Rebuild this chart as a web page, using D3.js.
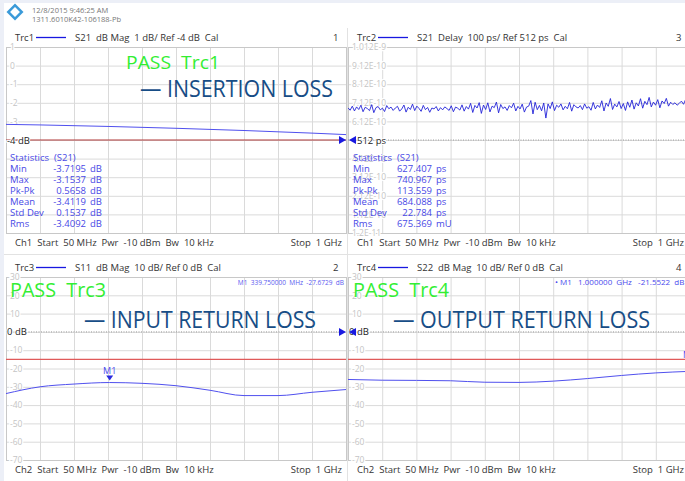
<!DOCTYPE html>
<html>
<head>
<meta charset="utf-8">
<script src="https://cdn.jsdelivr.net/npm/d3@7"></script>
<style>
  body { margin: 0; background: #fff; }
  svg { display: block; font-family: "Open Sans", sans-serif; }
  text { white-space: pre; }
</style>
</head>
<body>
<div id="vna"></div>
<script>
const svgWidth = 685;
const svgHeight = 481;

// sweep
const startMHz = 50;
const stopMHz = 1000;

// Trc1 S21 dB Mag
const trc1Freq = [50, 145, 240, 335, 430, 525, 620, 715, 810, 905, 1000];
const trc1Db = [-3.16, -3.19, -3.23, -3.27, -3.32, -3.37, -3.43, -3.49, -3.56, -3.63, -3.71];

// Trc2 S21 Delay in ps (evenly spaced points across the sweep)
const trc2Ps = [
  685, 672, 694, 668, 690, 676, 699, 664, 688, 681, 670, 702, 659, 686, 692, 674,
  683, 665, 697, 680, 689, 671, 684, 693, 667, 679, 700, 662, 688, 676, 705, 670,
  694, 682, 666, 698, 675, 687, 661, 684, 679, 692, 668, 686, 674, 690, 681, 671,
  696, 664, 689, 683, 673, 701, 667, 692, 678, 709, 660, 698, 684, 713, 655, 700,
  676, 712, 663, 694, 686, 716, 658, 703, 681, 690, 671, 697, 685, 710, 668, 693,
  679, 705, 662, 689, 694, 724, 652, 715, 675, 698, 669, 711, 630, 706, 681, 717,
  670, 699, 688, 706, 674, 693, 680, 714, 667, 702, 690, 684, 697, 675, 706, 683,
  691, 672, 714, 679, 700, 687, 723, 668, 711, 693, 735, 676, 705, 690, 719, 681,
  708, 671, 717, 688, 727, 678, 712, 695, 734, 683, 720, 702, 741, 690, 716, 699,
  729, 685, 722, 708, 736, 694, 715, 703, 712, 699, 709, 721, 704, 731, 696, 718
];

// Trc3 S11 dB Mag
const trc3Freq = [50, 145, 240, 339.75, 430, 525, 620, 715, 810, 905, 1000];
const trc3Db = [-33.7, -30.0, -28.5, -27.67, -28.1, -29.4, -31.9, -34.8, -34.8, -33.0, -31.5];

// Trc4 S22 dB Mag
const trc4Freq = [50, 145, 240, 335, 430, 525, 620, 715, 810, 905, 1000];
const trc4Db = [-26.0, -26.4, -26.5, -26.7, -27.5, -27.6, -26.9, -25.5, -23.8, -22.4, -21.55];

// tick labels (the ones hidden under the statistics are left blank)
const trc1Ticks = ["1", "0", "-1", "-2", "-3", "", "", "", "", "", ""];
const trc2Ticks = ["1.012E-9", "9.12E-10", "8.12E-10", "7.12E-10", "6.12E-10", "",
  "4.12E-10", "3.12E-10", "2.12E-10", "1.12E-10", "1.2E-11"];
const rlTicks = ["30", "20", "10", "", "-10", "-20", "-30", "-40", "-50", "-60", "-70"];

// statistics
const statNames = ["Min", "Max", "Pk-Pk", "Mean", "Std Dev", "Rms"];
const stats1 = ["-3.7195", "-3.1537", "0.5658", "-3.4119", "0.1537", "-3.4092"];
const units1 = ["dB", "dB", "dB", "dB", "dB", "dB"];
const stats2 = ["627.407", "740.967", "113.559", "684.088", "22.784", "675.369"];
const units2 = ["ps", "ps", "ps", "ps", "ps", "mU"];

const traceBlue = "#5050ee";
const statBlue = "#4848e6";
const gridGray = "#dadada";
const tickGray = "#c4c4c4";

const svg = d3.select("#vna").append("svg")
  .attr("width", svgWidth)
  .attr("height", svgHeight);

// outer tint strips
svg.append("rect").attr("x", 0).attr("y", 0).attr("width", svgWidth).attr("height", 3).attr("fill", "#eceff7");
svg.append("rect").attr("x", 0).attr("y", 0).attr("width", 4).attr("height", svgHeight).attr("fill", "#eceff7");

// logo + instrument info
const logo = svg.append("g").attr("transform", "translate(15,12) rotate(45)");
logo.append("rect").attr("x", -6).attr("y", -6).attr("width", 12).attr("height", 12)
  .attr("fill", "#3a9ad9");
logo.append("rect").attr("x", -3.5).attr("y", -3.5).attr("width", 7).attr("height", 7)
  .attr("fill", "#fff");
svg.append("text").attr("x", 32).attr("y", 13).attr("font-size", 7.5).attr("fill", "#777")
  .text("12/8/2015 9:46:25 AM");
svg.append("text").attr("x", 32).attr("y", 22).attr("font-size", 7.5).attr("fill", "#777")
  .text("1311.6010K42-106188-Pb");

// separators
svg.append("line").attr("x1", 347.5).attr("x2", 347.5).attr("y1", 28).attr("y2", svgHeight)
  .attr("stroke", "#e2e2e2");
svg.append("line").attr("x1", 4).attr("x2", svgWidth).attr("y1", 254.5).attr("y2", 254.5)
  .attr("stroke", "#e2e2e2");

function drawPanel(p) {
  const g = svg.append("g");
  const x = d3.scaleLinear().domain([startMHz, stopMHz]).range([p.x0, p.x0 + p.w]);
  const y = d3.scaleLinear().domain(p.yDomain).range([p.y0 + p.h, p.y0]);

  const clipId = "clip" + p.id;
  svg.append("clipPath").attr("id", clipId).append("rect")
    .attr("x", p.x0).attr("y", p.y0 - 1).attr("width", p.w).attr("height", p.h + 2);

  // header
  g.append("text").attr("x", p.x0 + 9).attr("y", p.y0 - 6).attr("font-size", 9.5).attr("fill", "#333")
    .text(p.trc);
  g.append("line").attr("x1", p.x0 + 30).attr("x2", p.x0 + 60).attr("y1", p.y0 - 9.5).attr("y2", p.y0 - 9.5)
    .attr("stroke", "#1818e0").attr("stroke-width", 1.3);
  g.append("text").attr("x", p.x0 + 69).attr("y", p.y0 - 6).attr("font-size", 9.5).attr("fill", "#333")
    .text(p.header);
  g.append("text").attr("x", p.chX).attr("y", p.y0 - 6).attr("font-size", 9.5).attr("fill", "#333")
    .text(p.num);

  // footer
  g.append("text").attr("x", p.x0 + 9).attr("y", p.y0 + p.h + 13).attr("font-size", 9.5).attr("fill", "#333")
    .text(p.footer);
  g.append("text").attr("x", p.stopX).attr("y", p.y0 + p.h + 13).attr("font-size", 9.5).attr("fill", "#333")
    .attr("text-anchor", "end").text("Stop  1 GHz");

  // grid
  const grid = g.append("g").attr("clip-path", `url(#${clipId})`);
  grid.append("g")
    .attr("transform", `translate(0,${p.y0 + p.h})`)
    .call(d3.axisBottom(x).tickValues(d3.range(11).map(i => startMHz + i * 95)).tickSize(-p.h).tickFormat(""))
    .call(a => a.select(".domain").remove())
    .call(a => a.selectAll("line").attr("stroke", gridGray));
  const yVals = d3.range(11).map(i => p.yDomain[1] - i * (p.yDomain[1] - p.yDomain[0]) / 10);
  grid.append("g")
    .attr("transform", `translate(${p.x0},0)`)
    .call(d3.axisRight(y).tickValues(yVals).tickSize(p.w).tickFormat(""))
    .call(a => a.select(".domain").remove())
    .call(a => a.selectAll("line").attr("stroke", gridGray));

  g.append("rect").attr("x", p.x0 + 0.5).attr("y", p.y0 + 0.5).attr("width", p.w).attr("height", p.h)
    .attr("fill", "none").attr("stroke", "#c8c8c8");

  // y tick labels inside the plot
  g.append("g")
    .attr("transform", `translate(${p.x0},0)`)
    .call(d3.axisRight(y).tickValues(yVals).tickSize(0).tickPadding(4)
      .tickFormat((d, i) => p.ticks[i]))
    .call(a => a.select(".domain").remove())
    .call(a => a.selectAll("text")
      .attr("font-family", "Open Sans, sans-serif").attr("font-size", 8.5)
      .attr("fill", tickGray).attr("stroke", "#fff").attr("stroke-width", 2.5)
      .attr("paint-order", "stroke"));

  // reference line + label
  const yRef = y(p.ref);
  g.append("line").attr("x1", p.x0).attr("x2", p.x0 + p.w).attr("y1", yRef).attr("y2", yRef)
    .attr("stroke", p.refColor).attr("stroke-width", p.refWidth)
    .attr("stroke-dasharray", p.refDash);
  g.append("text").attr("x", p.x0 + p.refLabelDx).attr("y", yRef + 3.5).attr("font-size", 9.5)
    .attr("fill", "#222").attr("stroke", "#fff").attr("stroke-width", 2).attr("paint-order", "stroke")
    .text(p.refLabel);
  p.refArrows.forEach(ax => {
    g.append("path")
      .attr("d", `M${ax},${yRef} l-7,-4 v8 z`)
      .attr("transform", ax < p.x0 + 5 ? `translate(${2 * ax},0) scale(-1,1)` : null)
      .attr("fill", "#1a1ae0");
  });

  // limit line
  if (p.limit !== undefined) {
    g.append("line").attr("x1", p.x0).attr("x2", p.x0 + p.w).attr("y1", y(p.limit)).attr("y2", y(p.limit))
      .attr("stroke", p.limitColor).attr("stroke-width", 1.2);
  }

  // trace
  const line = d3.line().x(d => x(d[0])).y(d => y(d[1])).curve(p.curve);
  g.append("path").datum(p.data)
    .attr("clip-path", `url(#${clipId})`)
    .attr("d", line)
    .attr("fill", "none").attr("stroke", p.color).attr("stroke-width", p.lw);

  return { g, x, y };
}

// Trc1
const p1 = drawPanel({
  id: 1, x0: 6, y0: 47, w: 340, h: 186, yDomain: [-9, 1], ticks: trc1Ticks,
  trc: "Trc1", header: "S21  dB Mag  1 dB/ Ref -4 dB  Cal", num: "1", chX: 333,
  footer: "Ch1  Start  50 MHz  Pwr  -10 dBm  Bw  10 kHz", stopX: 342,
  ref: -4, refColor: "#b03838", refWidth: 1.2, refDash: null, refLabel: "-4 dB", refLabelDx: 1,
  refArrows: [346],
  data: trc1Freq.map((f, i) => [f, trc1Db[i]]), curve: d3.curveMonotoneX,
  color: traceBlue, lw: 1
});

// Trc2
const trc2Freq = trc2Ps.map((d, i) => startMHz + i * (stopMHz - startMHz) / (trc2Ps.length - 1));
const p2 = drawPanel({
  id: 2, x0: 348, y0: 47, w: 342, h: 186, yDomain: [12, 1012], ticks: trc2Ticks,
  trc: "Trc2", header: "S21  Delay  100 ps/ Ref 512 ps  Cal", num: "3", chX: 676,
  footer: "Ch1  Start  50 MHz  Pwr  -10 dBm  Bw  10 kHz", stopX: 684,
  ref: 512, refColor: "#888", refWidth: 0.8, refDash: "1,1.5", refLabel: "512 ps", refLabelDx: 9,
  refArrows: [349, 692],
  data: trc2Freq.map((f, i) => [f, trc2Ps[i]]), curve: d3.curveLinear,
  color: "#2424d8", lw: 0.9
});

// Trc3
const p3 = drawPanel({
  id: 3, x0: 6, y0: 277, w: 340, h: 183, yDomain: [-70, 30], ticks: rlTicks,
  trc: "Trc3", header: "S11  dB Mag  10 dB/ Ref 0 dB  Cal", num: "2", chX: 333,
  footer: "Ch2  Start  50 MHz  Pwr  -10 dBm  Bw  10 kHz", stopX: 342,
  ref: 0, refColor: "#888", refWidth: 0.8, refDash: "1,1.5", refLabel: "0 dB", refLabelDx: 1,
  refArrows: [346],
  limit: -15, limitColor: "#e05a5a",
  data: trc3Freq.map((f, i) => [f, trc3Db[i]]), curve: d3.curveMonotoneX,
  color: traceBlue, lw: 1
});

// Trc4
const p4 = drawPanel({
  id: 4, x0: 348, y0: 277, w: 342, h: 183, yDomain: [-70, 30], ticks: rlTicks,
  trc: "Trc4", header: "S22  dB Mag  10 dB/ Ref 0 dB  Cal", num: "4", chX: 676,
  footer: "Ch2  Start  50 MHz  Pwr  -10 dBm  Bw  10 kHz", stopX: 684,
  ref: 0, refColor: "#888", refWidth: 0.8, refDash: "1,1.5", refLabel: "0 dB", refLabelDx: 1,
  refArrows: [349, 692],
  limit: -15, limitColor: "#e05a5a",
  data: trc4Freq.map((f, i) => [f, trc4Db[i]]), curve: d3.curveMonotoneX,
  color: traceBlue, lw: 1
});

// statistics blocks
function drawStats(x0, yTop, valX, names, vals, units) {
  const g = svg.append("g").attr("font-size", 9.5).attr("fill", statBlue);
  g.append("text").attr("x", x0).attr("y", yTop).text("Statistics  (S21)");
  names.forEach((n, i) => {
    const yy = yTop + 11 * (i + 1);
    g.append("text").attr("x", x0).attr("y", yy).text(n);
    g.append("text").attr("x", valX).attr("y", yy).attr("text-anchor", "end").text(vals[i]);
    g.append("text").attr("x", valX + 4).attr("y", yy).text(units[i]);
  });
}
drawStats(10, 161, 86, statNames, stats1, units1);
drawStats(353, 161, 432, statNames, stats2, units2);

// markers
const m1x = p3.x(339.75), m1y = p3.y(-27.6729);
svg.append("path").attr("d", `M${m1x - 3.5},${m1y - 7} h7 l-3.5,5 z`).attr("fill", "#2a2ae0");
svg.append("text").attr("x", m1x).attr("y", m1y - 9).attr("text-anchor", "middle")
  .attr("font-size", 9).attr("fill", "#4a4aee").text("M1");
svg.append("text").attr("x", 344).attr("y", 285).attr("text-anchor", "end")
  .attr("font-size", 6.5).attr("fill", "#5a5af0").text("M1  339.750000  MHz  -27.6729  dB");
svg.append("text").attr("x", 555).attr("y", 285)
  .attr("font-size", 8).attr("fill", "#4a4aee").text("• M1   1.000000  GHz   -21.5522  dB");
svg.append("text").attr("x", p4.x(1000) - 7).attr("y", p4.y(-21.5522) - 13)
  .attr("font-size", 9).attr("fill", "#4a4aee").text("M1");

// annotations
function note(x, y, txt, len, size, color) {
  svg.append("text").attr("x", x).attr("y", y).attr("font-size", size).attr("fill", color)
    .attr("textLength", len).attr("lengthAdjust", "spacingAndGlyphs").text(txt);
}
const green = "#33ee33";
const navy = "#174d86";
note(126, 69, "PASS  Trc1", 94, 19, green);
note(140, 97, "— INSERTION LOSS", 193, 23, navy);
note(10, 297, "PASS  Trc3", 96, 20, green);
note(84, 328, "— INPUT RETURN LOSS", 232, 23, navy);
note(353, 297, "PASS  Trc4", 96, 20, green);
note(393, 328, "— OUTPUT RETURN LOSS", 257, 23, navy);
</script>
</body>
</html>
